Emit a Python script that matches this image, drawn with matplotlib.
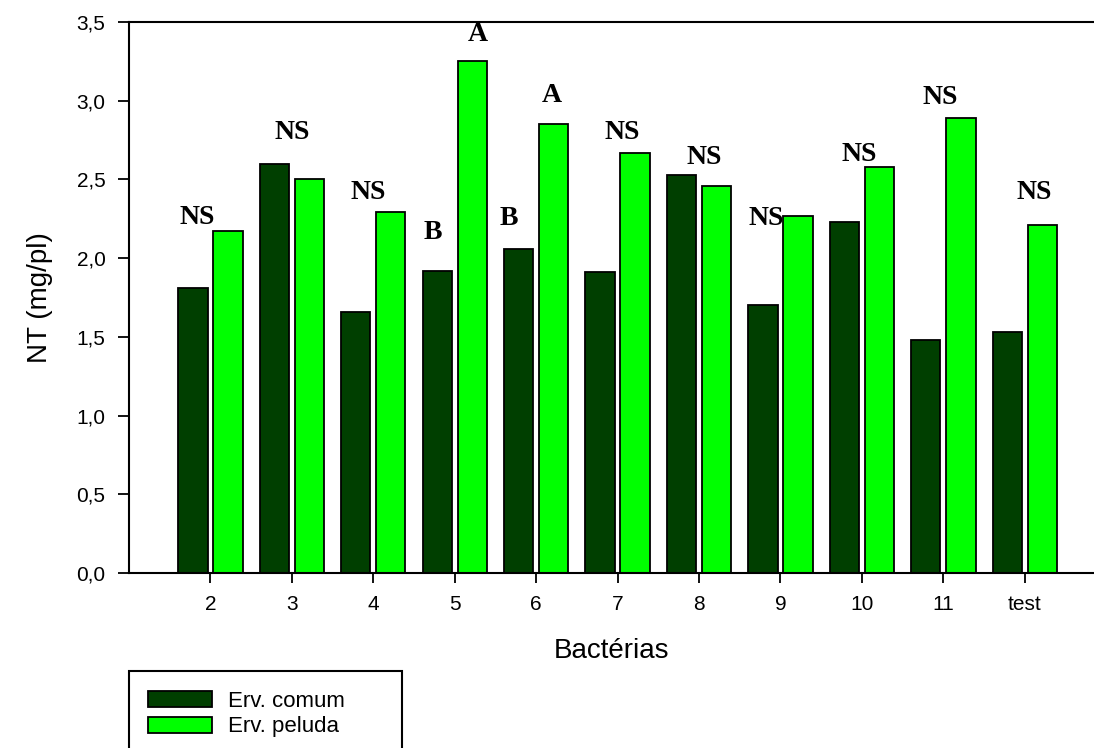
import matplotlib
matplotlib.use("Agg")
import matplotlib.pyplot as plt
from matplotlib.patches import Rectangle, Patch
from matplotlib.ticker import FuncFormatter
import numpy as np

# ---- data ----
categories = ["2", "3", "4", "5", "6", "7", "8", "9", "10", "11", "test"]
erv_comum = [1.81, 2.60, 1.66, 1.92, 2.06, 1.91, 2.53, 1.70, 2.23, 1.48, 1.53]
erv_peluda = [2.17, 2.50, 2.29, 3.25, 2.85, 2.67, 2.46, 2.27, 2.58, 2.89, 2.21]
series_names = ["Erv. comum", "Erv. peluda"]
# significance letters: (category index, text)
sig_labels = [(0, "NS"), (1, "NS"), (2, "NS"), (3, "B"), (3, "A"), (4, "B"),
              (4, "A"), (5, "NS"), (6, "NS"), (7, "NS"), (8, "NS"), (9, "NS"),
              (10, "NS")]

# ---- layout (label placement: x offset from group centre, y centre) ----
sig_pos = [(-0.16, 2.26), (0.0, 2.80), (-0.06, 2.42), (-0.27, 2.16), (0.28, 3.42),
           (-0.33, 2.25), (0.19, 3.03), (0.06, 2.80), (0.06, 2.64), (-0.18, 2.25),
           (-0.03, 2.66), (-0.04, 3.02), (0.11, 2.42)]

W, H = 1094, 748
fig = plt.figure(figsize=(W / 100, H / 100), dpi=100)
sans = "Liberation Sans"
serif = "Liberation Serif"

left, right, top, bottom = 129, 1094, 22, 573
ax = fig.add_axes([left / W, 1 - bottom / H, (right - left) / W, (bottom - top) / H])

x = np.arange(len(categories))
dark = "#003f00"
light = "#00ff00"
bw = 0.36
off = 0.215
ax.bar(x - off, erv_comum, bw, color=dark, edgecolor="black", linewidth=1.3, zorder=2)
ax.bar(x + off, erv_peluda, bw, color=light, edgecolor="black", linewidth=1.3, zorder=2)

ax.set_xlim(-1.0, 10.85)
ax.set_ylim(0, 3.5)
ax.set_xticks(x)
ax.set_xticklabels(categories, fontfamily=sans, fontsize=15)
ax.set_yticks(np.arange(0, 3.51, 0.5))
ax.yaxis.set_major_formatter(FuncFormatter(lambda v, p: f"{v:.1f}".replace(".", ",")))
for lab in ax.get_yticklabels():
    lab.set_fontfamily(sans)
    lab.set_fontsize(15)
ax.tick_params(axis="y", direction="out", length=8, width=1.3, pad=9)
ax.tick_params(axis="x", direction="out", length=7, width=1.3, pad=9)

ax.spines["right"].set_visible(False)
for s in ["left", "bottom", "top"]:
    ax.spines[s].set_linewidth(1.5)

ax.set_xlabel("Bactérias", fontfamily=sans, fontsize=20, labelpad=17)
ax.set_ylabel("NT (mg/pl)", fontfamily=sans, fontsize=20, labelpad=17)

for (ci, txt), (dx, yc) in zip(sig_labels, sig_pos):
    ax.text(x[ci] + dx, yc, txt, ha="center", va="center", fontfamily=serif,
            fontweight="bold", fontsize=20, zorder=3)

# legend box (cut by the bottom of the figure, as in the original)
fig.patches.append(Rectangle((129 / W, -0.05), (402 - 129) / W, 1 - 671 / H + 0.05,
                             transform=fig.transFigure, facecolor="white",
                             edgecolor="black", linewidth=1.5))
handles = [Patch(facecolor=dark, edgecolor="black", linewidth=1.3),
           Patch(facecolor=light, edgecolor="black", linewidth=1.3)]
fig.legend(handles, series_names, loc="upper left",
           bbox_to_anchor=(132 / W, 1 - 675 / H), frameon=False,
           prop={"family": sans, "size": 16}, handlelength=2.9, handleheight=0.75,
           labelspacing=0.22, handletextpad=0.7, borderpad=0.2)

fig.savefig("out.png", dpi=100)
